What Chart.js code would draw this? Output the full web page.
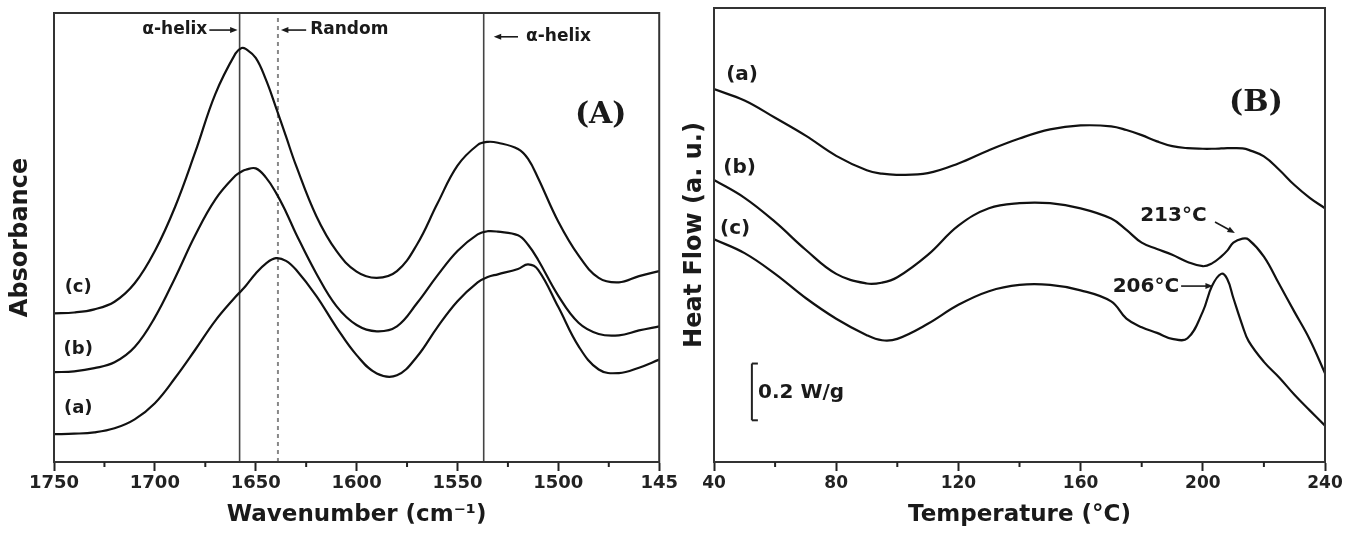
<!DOCTYPE html>
<html>
<head>
<meta charset="utf-8">
<script src="https://cdn.jsdelivr.net/npm/chart.js@4.4.1/dist/chart.umd.min.js"></script>
<style>
body { margin: 0; background: #fff; }
#chartA { position: absolute; left: 0; top: 0; }
#chartB { position: absolute; left: 680px; top: 0; }
</style>
</head>
<body>
<canvas id="chartA" width="680" height="542"></canvas>
<canvas id="chartB" width="682" height="542"></canvas>
<script>
// ---- panel A : FTIR ----
var wavenumber = [1750, 1740, 1730, 1720, 1710, 1700, 1690, 1680, 1670, 1660,
    1657, 1655, 1650, 1645, 1640, 1635, 1630, 1620, 1610, 1600,
    1590, 1580, 1570, 1560, 1550, 1540, 1535, 1530, 1520, 1515,
    1510, 1500, 1490, 1480, 1470, 1460, 1450];
var absA = [0.062, 0.063, 0.066, 0.075, 0.095, 0.131, 0.187, 0.25, 0.315, 0.368,
    0.382, 0.392, 0.42, 0.442, 0.454, 0.448, 0.428, 0.37, 0.3, 0.238,
    0.197, 0.193, 0.235, 0.3, 0.358, 0.4, 0.412, 0.418, 0.43, 0.44,
    0.428, 0.345, 0.258, 0.206, 0.198, 0.21, 0.228];
var absB = [0.2, 0.202, 0.209, 0.222, 0.256, 0.322, 0.41, 0.505, 0.585, 0.638,
    0.647, 0.651, 0.654, 0.634, 0.6, 0.557, 0.508, 0.42, 0.347, 0.305,
    0.291, 0.302, 0.354, 0.415, 0.47, 0.507, 0.514, 0.513, 0.505, 0.484,
    0.45, 0.37, 0.31, 0.285, 0.282, 0.293, 0.302];
var absC = [0.331, 0.333, 0.34, 0.357, 0.398, 0.47, 0.568, 0.69, 0.82, 0.91,
    0.922, 0.92, 0.9, 0.852, 0.79, 0.725, 0.66, 0.548, 0.47, 0.424,
    0.41, 0.425, 0.485, 0.575, 0.66, 0.706, 0.713, 0.711, 0.697, 0.675,
    0.632, 0.535, 0.46, 0.41, 0.4, 0.414, 0.425];
var bandLines = [1658, 1639, 1537];      // alpha-helix, random, alpha-helix
var wnTicks = [1750, 1700, 1650, 1600, 1550, 1500, 1450];
var wnLabels = ['1750', '1700', '1650', '1600', '1550', '1500', '145'];
var wnMinor = [1725, 1675, 1625, 1575, 1525, 1475];

// ---- panel B : DSC ----
var tempC = [40, 50, 60, 70, 80, 90, 95, 100, 110, 120, 130, 140, 150, 160, 170, 175,
    180, 185, 190, 195, 200, 203, 206, 208, 210, 213, 215, 220, 225, 230, 235, 240];
var heatA = [1.314, 1.274, 1.213, 1.15, 1.079, 1.028, 1.016, 1.012, 1.018, 1.052, 1.099,
    1.14, 1.172, 1.186, 1.183, 1.17, 1.152, 1.13, 1.113, 1.106, 1.104, 1.104, 1.105,
    1.106, 1.106, 1.105, 1.1, 1.077, 1.03, 0.976, 0.931, 0.894];
var heatB = [0.994, 0.931, 0.846, 0.748, 0.663, 0.629, 0.632, 0.651, 0.73, 0.833, 0.894,
    0.912, 0.912, 0.894, 0.858, 0.818, 0.773, 0.751, 0.73, 0.705, 0.69, 0.7, 0.724,
    0.745, 0.773, 0.787, 0.784, 0.724, 0.627, 0.529, 0.432, 0.313];
var heatC = [0.785, 0.736, 0.663, 0.578, 0.505, 0.447, 0.429, 0.434, 0.487, 0.554, 0.602,
    0.624, 0.624, 0.605, 0.566, 0.505, 0.475, 0.455, 0.434, 0.436, 0.53, 0.62, 0.663,
    0.645, 0.578, 0.48, 0.426, 0.353, 0.298, 0.237, 0.182, 0.128];
var scaleBar = [0.147, 0.347];           // 0.2 W/g
var tTicks = [40, 80, 120, 160, 200, 240];
var tLabels = ['40', '80', '120', '160', '200', '240'];
var tMinor = [60, 100, 140, 180, 220];

Chart.defaults.font.family = 'DejaVu Sans';
Chart.defaults.color = '#222';

function pts(xs, ys) {
    return xs.map(function(x, i) { return {x: x, y: ys[i]}; });
}

function curve(data) {
    return {
        data: data,
        borderColor: '#111',
        borderWidth: 2.2,
        pointRadius: 0,
        tension: 0.4
    };
}

function arrow(ctx, x1, y1, x2, y2) {
    var a = Math.atan2(y2 - y1, x2 - x1), h = 8;
    ctx.beginPath();
    ctx.moveTo(x1, y1);
    ctx.lineTo(x2 - 4 * Math.cos(a), y2 - 4 * Math.sin(a));
    ctx.stroke();
    ctx.beginPath();
    ctx.moveTo(x2, y2);
    ctx.lineTo(x2 - h * Math.cos(a - 0.38), y2 - h * Math.sin(a - 0.38));
    ctx.lineTo(x2 - h * Math.cos(a + 0.38), y2 - h * Math.sin(a + 0.38));
    ctx.closePath();
    ctx.fill();
}

// frame, minor ticks and text notes, all placed through the scales
function framePlugin(minor, notes, arrows) {
    return {
        id: 'frame',
        afterDraw: function(chart) {
            var ctx = chart.ctx, a = chart.chartArea;
            var xs = chart.scales.x, ys = chart.scales.y;
            ctx.save();
            ctx.strokeStyle = '#333';
            ctx.lineWidth = 2;
            ctx.strokeRect(a.left, a.top, a.right - a.left, a.bottom - a.top);
            ctx.strokeStyle = '#222';
            minor.forEach(function(v) {
                var x = xs.getPixelForValue(v);
                ctx.beginPath();
                ctx.moveTo(x, a.bottom);
                ctx.lineTo(x, a.bottom + 5);
                ctx.stroke();
            });
            ctx.fillStyle = '#1a1a1a';
            ctx.textBaseline = 'middle';
            notes.forEach(function(n) {
                ctx.font = n.font;
                ctx.textAlign = n.align || 'center';
                ctx.fillText(n.text, xs.getPixelForValue(n.x), ys.getPixelForValue(n.y));
            });
            ctx.strokeStyle = '#1a1a1a';
            ctx.lineWidth = 1.6;
            arrows.forEach(function(r) {
                arrow(ctx, xs.getPixelForValue(r[0]), ys.getPixelForValue(r[1]),
                    xs.getPixelForValue(r[2]), ys.getPixelForValue(r[3]));
            });
            ctx.restore();
        }
    };
}

function options(o) {
    return {
        responsive: false,
        animation: false,
        layout: { padding: { top: o.top, right: o.right, left: 0, bottom: 0 } },
        plugins: { legend: { display: false }, tooltip: { enabled: false } },
        scales: {
            x: {
                type: 'linear',
                min: o.xmin,
                max: o.xmax,
                reverse: o.reverse,
                afterBuildTicks: function(s) {
                    s.ticks = o.ticks.map(function(v) { return {value: v}; });
                },
                afterFit: function(s) { s.height = 80; },
                grid: { drawOnChartArea: false, tickLength: 9, tickWidth: 2, tickColor: '#222' },
                border: { color: '#222', width: 2 },
                ticks: {
                    autoSkip: false,
                    maxRotation: 0,
                    padding: 2,
                    color: '#222',
                    font: { size: o.tickSize, weight: 'bold' },
                    callback: function(v) { return o.labels[o.ticks.indexOf(v)]; }
                },
                title: {
                    display: true,
                    text: o.xtitle,
                    color: '#1a1a1a',
                    font: { size: 23, weight: 'bold' },
                    padding: { top: 0, bottom: 13 }
                }
            },
            y: {
                min: o.ymin,
                max: o.ymax,
                afterFit: function(s) { s.width = o.left; },
                grid: { display: false },
                border: { display: false },
                ticks: { display: false },
                title: {
                    display: true,
                    text: o.ytitle,
                    color: '#1a1a1a',
                    font: { size: 24, weight: 'bold' },
                    padding: { top: o.ytitlePad, bottom: 0 }
                }
            }
        }
    };
}

var labA = 'bold 18px "DejaVu Sans"';
var labB = 'bold 20px "DejaVu Sans"';

// ---------- chart A ----------
var dsA = [curve(pts(wavenumber, absA)), curve(pts(wavenumber, absB)), curve(pts(wavenumber, absC))];
bandLines.forEach(function(w, i) {
    dsA.push({
        data: [{x: w, y: 0}, {x: w, y: 1}],
        borderColor: i === 1 ? '#888' : '#444',
        borderWidth: i === 1 ? 2 : 1.6,
        borderDash: i === 1 ? [4, 4] : [],
        pointRadius: 0
    });
});

var notesA = [
    {text: '(c)', x: 1738, y: 0.39, font: labA},
    {text: '(b)', x: 1738, y: 0.252, font: labA},
    {text: '(a)', x: 1738, y: 0.12, font: labA},
    {text: 'α-helix', x: 1674, y: 0.962, font: 'bold 17px "DejaVu Sans"', align: 'right'},
    {text: 'Random', x: 1623, y: 0.962, font: 'bold 17px "DejaVu Sans"', align: 'left'},
    {text: 'α-helix', x: 1516, y: 0.947, font: 'bold 17px "DejaVu Sans"', align: 'left'},
    {text: '(A)', x: 1479, y: 0.773, font: 'bold 30px "DejaVu Serif"'}
];
var arrowsA = [
    [1673, 0.962, 1659, 0.962],
    [1625, 0.962, 1637.5, 0.962],
    [1520, 0.947, 1532, 0.947]
];

new Chart(document.getElementById('chartA'), {
    type: 'line',
    data: { datasets: dsA },
    options: options({
        top: 13, right: 19, left: 54, xmin: 1450, xmax: 1750, reverse: true,
        ymin: 0, ymax: 1, ticks: wnTicks, labels: wnLabels, tickSize: 18,
        xtitle: 'Wavenumber (cm⁻¹)', ytitle: 'Absorbance', ytitlePad: 6
    }),
    plugins: [framePlugin(wnMinor, notesA, arrowsA)]
});

// ---------- chart B ----------
var dsB = [curve(pts(tempC, heatA)), curve(pts(tempC, heatB)), curve(pts(tempC, heatC))];
dsB.push({
    data: [{x: 52.4, y: scaleBar[0]}, {x: 52.4, y: scaleBar[1]}],
    borderColor: '#222',
    borderWidth: 2,
    pointStyle: 'dash',
    pointRadius: 6,
    pointBorderColor: '#222',
    pointBorderWidth: 2
});

var notesB = [
    {text: '(a)', x: 49.2, y: 1.363, font: labB},
    {text: '(b)', x: 48.4, y: 1.037, font: labB},
    {text: '(c)', x: 46.9, y: 0.821, font: labB},
    {text: '(B)', x: 217.4, y: 1.266, font: 'bold 30px "DejaVu Serif"'},
    {text: '213°C', x: 179.5, y: 0.869, font: labB, align: 'left'},
    {text: '206°C', x: 170.5, y: 0.618, font: labB, align: 'left'},
    {text: '0.2 W/g', x: 54.4, y: 0.243, font: labB, align: 'left'}
];
var arrowsB = [
    [204, 0.846, 210.5, 0.807],
    [192.9, 0.62, 203.3, 0.62]
];

new Chart(document.getElementById('chartB'), {
    type: 'line',
    data: { datasets: dsB },
    options: options({
        top: 7, right: 37, left: 34, xmin: 40, xmax: 240, reverse: false,
        ymin: 0, ymax: 1.6, ticks: tTicks, labels: tLabels, tickSize: 17,
        xtitle: 'Temperature (°C)', ytitle: 'Heat Flow (a. u.)', ytitlePad: 0
    }),
    plugins: [framePlugin(tMinor, notesB, arrowsB)]
});
</script>
</body>
</html>
